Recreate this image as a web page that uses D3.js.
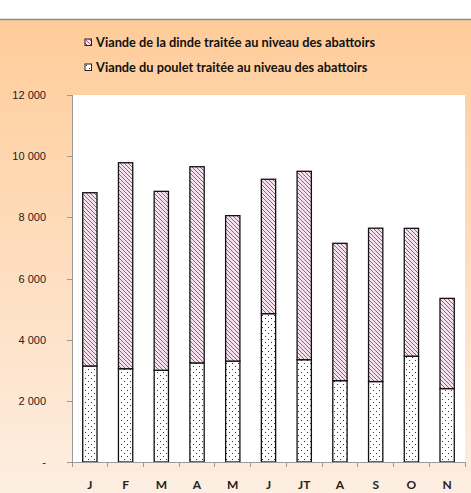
<!DOCTYPE html>
<meta charset="utf-8">
<title>Viande traitée au niveau des abattoirs</title>
<style>
body {
  margin: 0;
  background: #fff;
  font-family: Lato, "Open Sans", sans-serif;
}
.axis path,
.axis line {
  fill: none;
  stroke: #999;
  shape-rendering: crispEdges;
}
.axis text {
  fill: #222;
}
</style>
<body>
<svg id="chart"></svg>
<script src="https://cdnjs.cloudflare.com/ajax/libs/d3/7.8.5/d3.min.js"></script>
<script>

// mois (libellés de l'axe)
var mois = ["J", "F", "M", "A", "M ", "J ", "JT", "A ", "S", "O", "N"];
// viande du poulet (partie basse)
var poulet = [3140, 3050, 3000, 3240, 3300, 4850, 3345, 2660, 2630, 3460, 2400];
// viande de la dinde (partie haute) = total - poulet
var totalLu = [8805, 9785, 8850, 9655, 8055, 9245, 9505, 7150, 7645, 7640, 5350];
var dinde = totalLu.map(function(t, i) { return t - poulet[i]; });
var yTicks = [0, 2000, 4000, 6000, 8000, 10000, 12000];
var series = ["poulet", "dinde"];
var legendLabels = ["Viande de la dinde traitée au niveau des abattoirs",
                    "Viande du poulet traitée au niveau des abattoirs"];

var W = 471, H = 493;
var margin = {top: 95, right: 6, bottom: 31, left: 72},
    width = W - margin.left - margin.right,
    height = H - margin.top - margin.bottom;

var svg = d3.select("#chart")
    .attr("width", W)
    .attr("height", H);

var defs = svg.append("defs");

var grad = defs.append("linearGradient")
    .attr("id", "bg")
    .attr("x1", 0).attr("y1", 0).attr("x2", 0).attr("y2", 1);
grad.append("stop").attr("offset", "0%").attr("stop-color", "#ffcc99");
grad.append("stop").attr("offset", "100%").attr("stop-color", "#fdeee2");

// hachures pour la dinde
var hatch = defs.append("pattern")
    .attr("id", "hatch")
    .attr("patternUnits", "userSpaceOnUse")
    .attr("width", 4).attr("height", 4);
hatch.append("rect").attr("width", 4).attr("height", 4).attr("fill", "#f5e2ee");
hatch.append("path")
    .attr("d", "M-1,-1 L5,5 M-1,3 L1,5 M3,-1 L5,1")
    .attr("stroke", "#8e6088")
    .attr("stroke-width", 1);

// petits points pour le poulet
var dots = defs.append("pattern")
    .attr("id", "dots")
    .attr("patternUnits", "userSpaceOnUse")
    .attr("width", 6).attr("height", 6);
dots.append("rect").attr("width", 6).attr("height", 6).attr("fill", "#fff");
dots.append("rect").attr("x", 1).attr("y", 1).attr("width", 1).attr("height", 1).attr("fill", "#333");
dots.append("rect").attr("x", 4).attr("y", 4).attr("width", 1).attr("height", 1).attr("fill", "#333");

// fond du graphique
svg.append("rect")
    .attr("x", 0).attr("y", 19)
    .attr("width", W).attr("height", H - 19)
    .attr("fill", "url(#bg)");
svg.append("line")
    .attr("x1", 0).attr("x2", W)
    .attr("y1", 19.5).attr("y2", 19.5)
    .attr("stroke", "#8c8c8c")
    .attr("stroke-width", 1.5);

var g = svg.append("g")
    .attr("transform", "translate(" + margin.left + "," + margin.top + ")");

g.append("rect")
    .attr("width", width)
    .attr("height", height)
    .attr("fill", "#fff");

var x = d3.scaleBand()
    .domain(mois)
    .range([0, width])
    .paddingInner(0.6)
    .paddingOuter(0.3);

var y = d3.scaleLinear()
    .domain([0, 12000])
    .range([height, 0]);

var data = mois.map(function(m, i) {
  return {mois: m, poulet: poulet[i], dinde: dinde[i]};
});

var stacked = d3.stack().keys(series)(data);
var fills = {poulet: "url(#dots)", dinde: "url(#hatch)"};

g.selectAll(".serie")
    .data(stacked)
  .enter().append("g")
    .attr("class", "serie")
    .attr("fill", function(d) { return fills[d.key]; })
  .selectAll("rect")
    .data(function(d) { return d; })
  .enter().append("rect")
    .attr("x", function(d) { return x(d.data.mois); })
    .attr("y", function(d) { return y(d[1]); })
    .attr("width", x.bandwidth())
    .attr("height", function(d) { return y(d[0]) - y(d[1]); })
    .attr("stroke", "#111")
    .attr("stroke-width", 1.3);

// axe y
var yAxis = d3.axisLeft(y)
    .tickValues(yTicks)
    .tickSize(5)
    .tickPadding(21)
    .tickFormat(function(d) { return d === 0 ? "-" : d3.format(",")(d).replace(",", " "); });

g.append("g")
    .attr("class", "y axis")
    .call(yAxis)
    .call(function(a) { a.selectAll("text").style("font-size", "11px"); });

// axe x : graduations entre les mois
var step = x.step();
var xAxis = g.append("g")
    .attr("class", "x axis")
    .attr("transform", "translate(0," + height + ")");

xAxis.append("line")
    .attr("x1", 0).attr("x2", width);

xAxis.selectAll(".tk")
    .data(d3.range(mois.length + 1))
  .enter().append("line")
    .attr("class", "tk")
    .attr("x1", function(i) { return i * step; })
    .attr("x2", function(i) { return i * step; })
    .attr("y1", 0).attr("y2", 5);

xAxis.selectAll(".lbl")
    .data(mois)
  .enter().append("text")
    .attr("class", "lbl")
    .attr("x", function(d) { return x(d) + x.bandwidth() / 2; })
    .attr("y", 27)
    .attr("text-anchor", "middle")
    .style("font-size", "12px")
    .style("font-weight", "bold")
    .text(function(d) { return d.trim(); });

// légende
var legend = svg.selectAll(".legend")
    .data(["dinde", "poulet"])
  .enter().append("g")
    .attr("class", "legend")
    .attr("transform", function(d, i) { return "translate(85," + (39 + i * 25) + ")"; });

legend.append("rect")
    .attr("width", 6.5)
    .attr("height", 6.5)
    .attr("fill", function(d) { return fills[d]; })
    .attr("stroke", "#222")
    .attr("stroke-width", 1);

legend.append("text")
    .attr("x", 11)
    .attr("y", 3.5)
    .attr("dy", ".35em")
    .style("font-size", "12.8px")
    .style("font-weight", "bold")
    .style("fill", "#111")
    .text(function(d, i) { return legendLabels[i]; });

</script>
</body>
